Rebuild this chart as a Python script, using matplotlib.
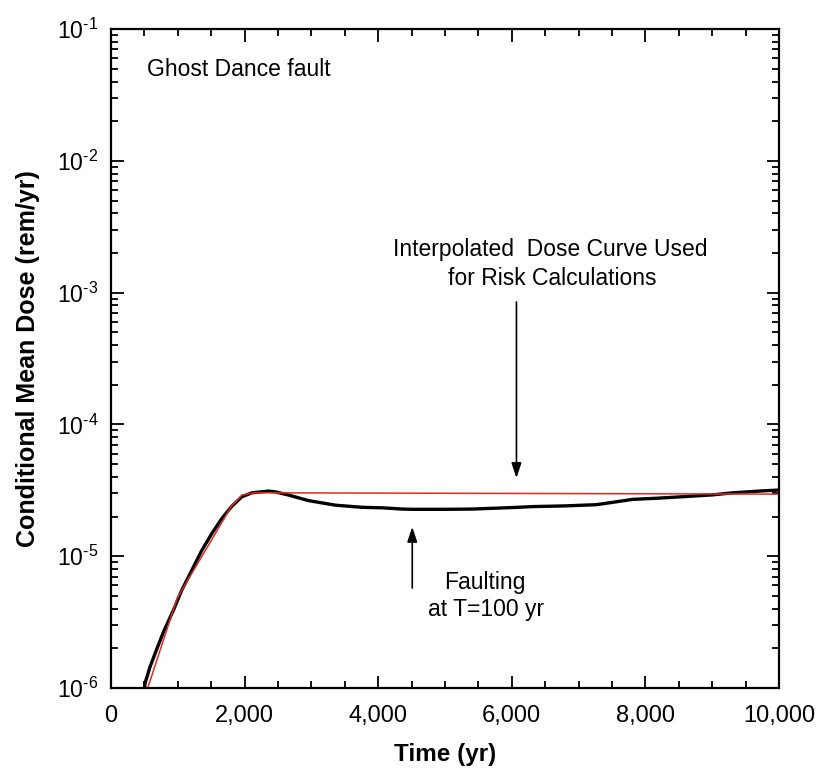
import numpy as np
import matplotlib
matplotlib.use('Agg')
import matplotlib.pyplot as plt
from matplotlib.ticker import MultipleLocator, FuncFormatter, LogLocator

plt.rcParams['font.family'] = ['Liberation Sans', 'DejaVu Sans']
plt.rcParams['mathtext.fontset'] = 'custom'
plt.rcParams['mathtext.rm'] = 'Liberation Sans'
plt.rcParams['mathtext.it'] = 'Liberation Sans:italic'
plt.rcParams['mathtext.bf'] = 'Liberation Sans:bold'

# conditional mean dose, faulting at T=100 yr (black)
time_dose = [500, 510, 585, 660, 786, 936, 1061, 1211, 1361, 1511, 1661, 1811,
             1961, 2111, 2361, 2461, 2661, 2961, 3361, 3761, 4060, 4361, 4510,
             5000, 5410, 6000, 6310, 6800, 7260, 7500, 7810, 8200, 8560, 9000,
             9310, 9700, 10000]
dose = [1.0e-6, 1.09e-6, 1.45e-6, 1.83e-6, 2.67e-6, 3.91e-6, 5.55e-6, 7.85e-6,
        1.11e-5, 1.49e-5, 1.94e-5, 2.40e-5, 2.83e-5, 3.03e-5, 3.12e-5, 3.08e-5,
        2.91e-5, 2.64e-5, 2.44e-5, 2.35e-5, 2.33e-5, 2.28e-5, 2.27e-5, 2.27e-5,
        2.28e-5, 2.34e-5, 2.38e-5, 2.41e-5, 2.46e-5, 2.56e-5, 2.70e-5, 2.76e-5,
        2.83e-5, 2.92e-5, 3.03e-5, 3.12e-5, 3.18e-5]

# interpolated dose curve used for risk calculations (red)
time_interp = [550, 990, 1800, 1960, 2150, 10000]
dose_interp = [1.0e-6, 4.8e-6, 2.38e-5, 2.91e-5, 3.03e-5, 2.96e-5]

fig = plt.figure(figsize=(8.21, 7.77), dpi=100)
ax = fig.add_axes([0.1352, 0.1145, 0.8136, 0.8481])

ax.plot(time_dose, dose, color='black', lw=2.4, solid_joinstyle='round',
        solid_capstyle='round')
ax.plot(time_interp, dose_interp, color='#e8261e', lw=1.1)

ax.set_yscale('log')
ax.set_xlim(0, 10000)
ax.set_ylim(1e-6, 1e-1)

ax.xaxis.set_major_locator(MultipleLocator(2000))
ax.xaxis.set_minor_locator(MultipleLocator(500))
ax.xaxis.set_major_formatter(FuncFormatter(lambda v, p: f'{int(v):,}'))
ax.yaxis.set_major_locator(LogLocator(base=10, numticks=10))
ax.yaxis.set_minor_locator(LogLocator(base=10, subs=np.arange(2, 10), numticks=20))
ax.yaxis.set_major_formatter(
    FuncFormatter(lambda v, p: r'$10^{\text{-%d}}$' % abs(round(np.log10(v)))))

ax.tick_params(which='both', direction='in', top=True, right=True, width=1.3)
ax.tick_params(which='major', length=9)
ax.tick_params(which='minor', length=5)
ax.tick_params(axis='x', which='major', labelsize=17, pad=12)
ax.tick_params(axis='y', which='major', labelsize=16.5, pad=9)
for s in ax.spines.values():
    s.set_linewidth(1.6)

ax.set_xlabel('Time (yr)', fontsize=17.5, fontweight='bold', labelpad=12)
ax.set_ylabel('Conditional Mean Dose (rem/yr)', fontsize=18, fontweight='bold',
              labelpad=12)

ax.text(535, 4.9e-2, 'Ghost Dance fault', fontsize=16.5, va='center', ha='left')
ax.text(6573, 2.14e-3, 'Interpolated  Dose Curve Used', fontsize=16.5,
        va='center', ha='center')
ax.text(6600, 1.27e-3, 'for Risk Calculations', fontsize=16.5, va='center',
        ha='center')
ax.text(5600, 6.37e-6, 'Faulting', fontsize=16.5, va='center', ha='center')
ax.text(5620, 3.91e-6, 'at T=100 yr', fontsize=16.5, va='center', ha='center')

arrow = dict(arrowstyle='-|>,head_length=0.9,head_width=0.3', color='black',
             lw=1.2, shrinkA=0, shrinkB=0)
ax.annotate('', xy=(6070, 3.92e-5), xytext=(6070, 8.5e-4), arrowprops=arrow)
ax.annotate('', xy=(4510, 1.67e-5), xytext=(4510, 5.74e-6), arrowprops=arrow)

fig.savefig('out.png', dpi=100)
